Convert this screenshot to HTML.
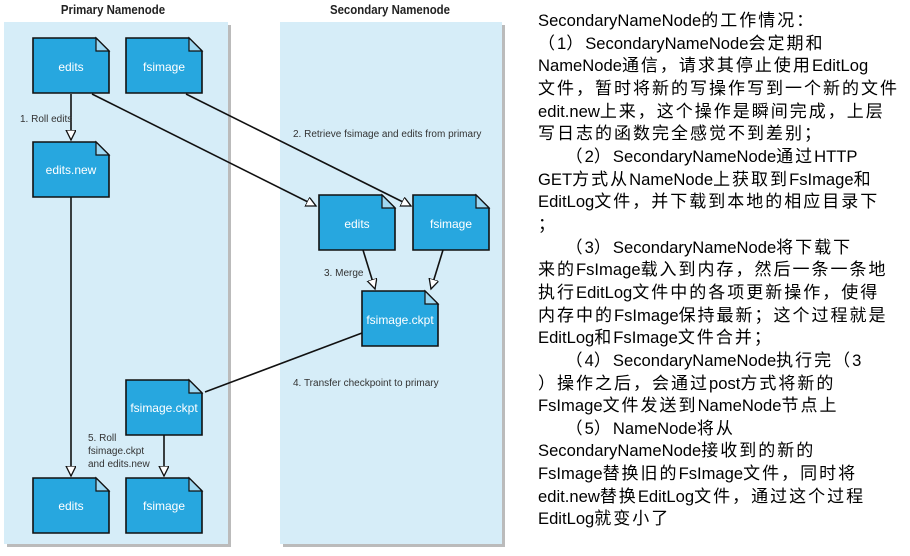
<!DOCTYPE html>
<html><head><meta charset="utf-8"><style>
body{margin:0;width:910px;height:556px;background:#fff;overflow:hidden;position:relative;font-family:"Liberation Sans","Noto Sans CJK SC",sans-serif}
#txt{position:absolute;left:538px;top:10px;font-size:16.6px;line-height:22.65px;white-space:pre;color:#000}
#txt i{font-style:normal;font-size:17px;letter-spacing:2px}
</style></head><body>
<svg width="530" height="556" style="position:absolute;left:0;top:0" font-family="Liberation Sans, sans-serif">
<defs>
<marker id="a" markerWidth="12" markerHeight="12" refX="10" refY="5" orient="auto" markerUnits="userSpaceOnUse"><path d="M0,0 L10,5 L0,10 Z" fill="#fff" stroke="#111" stroke-width="1.3"/></marker>
<g id="doc"><path d="M0,0 H63 L76,13 V55 H0 Z" fill="#27a7df" stroke="#111" stroke-width="1.6"/><path d="M63,0 V13 H76 Z" fill="#9fd8f2" stroke="#111" stroke-width="1.2"/></g>
</defs>
<rect x="7" y="25" width="224" height="522" fill="#bbb"/>
<rect x="4" y="22" width="224" height="522" fill="#d6edf8"/>
<rect x="283" y="25" width="222" height="522" fill="#bbb"/>
<rect x="280" y="22" width="222" height="522" fill="#d6edf8"/>
<text x="113" y="14" text-anchor="middle" font-size="13" font-weight="bold" fill="#222" transform="translate(113,0) scale(0.88,1) translate(-113,0)">Primary Namenode</text>
<text x="390" y="14" text-anchor="middle" font-size="13" font-weight="bold" fill="#222" transform="translate(390,0) scale(0.88,1) translate(-390,0)">Secondary Namenode</text>
<g stroke="#111" stroke-width="1.6" fill="none">
<line x1="71" y1="94" x2="71" y2="140" marker-end="url(#a)"/>
<line x1="92" y1="94" x2="316" y2="206" marker-end="url(#a)"/>
<line x1="186" y1="94" x2="411" y2="206" marker-end="url(#a)"/>
<line x1="363" y1="250" x2="375" y2="289" marker-end="url(#a)"/>
<line x1="443" y1="250" x2="431" y2="289" marker-end="url(#a)"/>
<line x1="362" y1="333" x2="205" y2="392"/>
<line x1="71" y1="197" x2="71" y2="476" marker-end="url(#a)"/>
<line x1="164" y1="435" x2="164" y2="476" marker-end="url(#a)"/>
</g>
<use href="#doc" x="33" y="38"/><use href="#doc" x="126" y="38"/>
<use href="#doc" x="33" y="142"/>
<use href="#doc" x="319" y="195"/><use href="#doc" x="413" y="195"/>
<use href="#doc" x="362" y="291"/>
<use href="#doc" x="126" y="380"/>
<use href="#doc" x="33" y="478"/><use href="#doc" x="126" y="478"/>
<g fill="#fff" font-size="12" text-anchor="middle">
<text x="71" y="71">edits</text><text x="164" y="71">fsimage</text>
<text x="71" y="174">edits.new</text>
<text x="357" y="228">edits</text><text x="451" y="228">fsimage</text>
<text x="400" y="324">fsimage.ckpt</text>
<text x="164" y="412">fsimage.ckpt</text>
<text x="71" y="510">edits</text><text x="164" y="510">fsimage</text>
</g>
<g fill="#333" font-size="10">
<text x="20" y="122">1. Roll edits</text>
<text x="293" y="137">2. Retrieve fsimage and edits from primary</text>
<text x="324" y="276">3. Merge</text>
<text x="293" y="386">4. Transfer checkpoint to primary</text>
<text x="88" y="441">5. Roll</text>
<text x="88" y="454">fsimage.ckpt</text>
<text x="88" y="467">and edits.new</text>
</g>
</svg>
<div id="txt">SecondaryNameNode<i>的工作情况：</i>
<i>（</i>1<i>）</i>SecondaryNameNode<i>会定期和</i>
NameNode<i>通信，请求其停止使用</i>EditLog
<i>文件，暂时将新的写操作写到一个新的文件</i>
edit.new<i>上来，这个操作是瞬间完成，上层</i>
<i>写日志的函数完全感觉不到差别；</i>
      <i>（</i>2<i>）</i>SecondaryNameNode<i>通过</i>HTTP
GET<i>方式从</i>NameNode<i>上获取到</i>FsImage<i>和</i>
EditLog<i>文件，并下载到本地的相应目录下</i>
<i>；</i>
      <i>（</i>3<i>）</i>SecondaryNameNode<i>将下载下</i>
<i>来的</i>FsImage<i>载入到内存，然后一条一条地</i>
<i>执行</i>EditLog<i>文件中的各项更新操作，使得</i>
<i>内存中的</i>FsImage<i>保持最新；这个过程就是</i>
EditLog<i>和</i>FsImage<i>文件合并；</i>
      <i>（</i>4<i>）</i>SecondaryNameNode<i>执行完（</i>3
<i>）操作之后，会通过</i>post<i>方式将新的</i>
FsImage<i>文件发送到</i>NameNode<i>节点上</i>
      <i>（</i>5<i>）</i>NameNode<i>将从</i>
SecondaryNameNode<i>接收到的新的</i>
FsImage<i>替换旧的</i>FsImage<i>文件，同时将</i>
edit.new<i>替换</i>EditLog<i>文件，通过这个过程</i>
EditLog<i>就变小了</i></div>
</body></html>
